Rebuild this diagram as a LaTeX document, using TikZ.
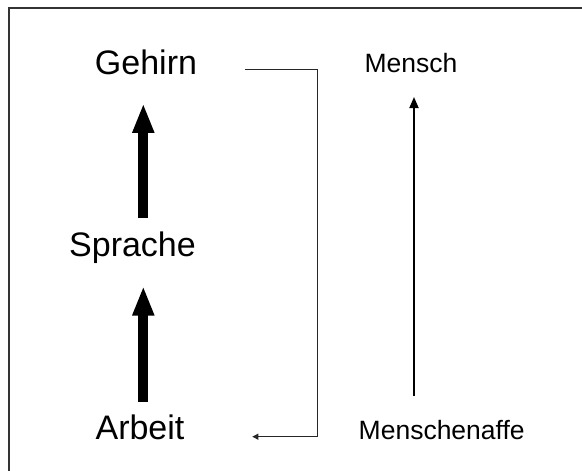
\documentclass[tikz,border=0pt]{standalone}
\usepackage{fontspec}
\setmainfont{Liberation Sans}
\usetikzlibrary{arrows.meta}
\begin{document}
\begin{tikzpicture}[x=1pt,y=-1pt,
  big/.style={font=\fontsize{34}{40}\selectfont, inner sep=0pt, anchor=base},
  small/.style={font=\fontsize{26.5}{32}\selectfont, inner sep=0pt, anchor=base},
  fatarrow/.style={line width=10pt, -{Triangle[length=29.5pt,width=20pt]}},
  thinarrow/.style={line width=1.8pt, -{Triangle[length=11pt,width=9pt]}},
  feedback/.style={line width=1pt, draw=black!85, -{Triangle[length=6pt,width=6pt]}}]
  \useasboundingbox (0,0) rectangle (582,471);
  % frame
  \draw[line width=1.2pt, black!80] (9,471) -- (9,8) -- (582,8);
  % left column
  \node[big] (gehirn)  at (146,74.3)  {Gehirn};
  \node[big] (sprache) at (132.5,256.7) {Sprache};
  \node[big] (arbeit)  at (140,439.3) {Arbeit};
  % right column
  \node[small] (mensch) at (411,72.7) {Mensch};
  \node[small] (affe)   at (441.7,439.3) {Menschenaffe};
  % arrow end points
  \coordinate (s1) at (143.3,218.3);
  \coordinate (t1) at (143.3,103.3);
  \coordinate (s2) at (143.3,401.7);
  \coordinate (t2) at (143.3,286);
  \coordinate (a1) at (414,396);
  \coordinate (m1) at (414,97);
  \coordinate (g1) at (245,69);
  \coordinate (c1) at (317,69);
  \coordinate (c2) at (317,436.7);
  \coordinate (r1) at (252.3,436.7);
  % connectors
  \draw[fatarrow] (s1) -- (t1);
  \draw[fatarrow] (s2) -- (t2);
  \draw[thinarrow] (a1) -- (m1);
  \draw[feedback] (g1) -- (c1) -- (c2) -- (r1);
\end{tikzpicture}
\end{document}
